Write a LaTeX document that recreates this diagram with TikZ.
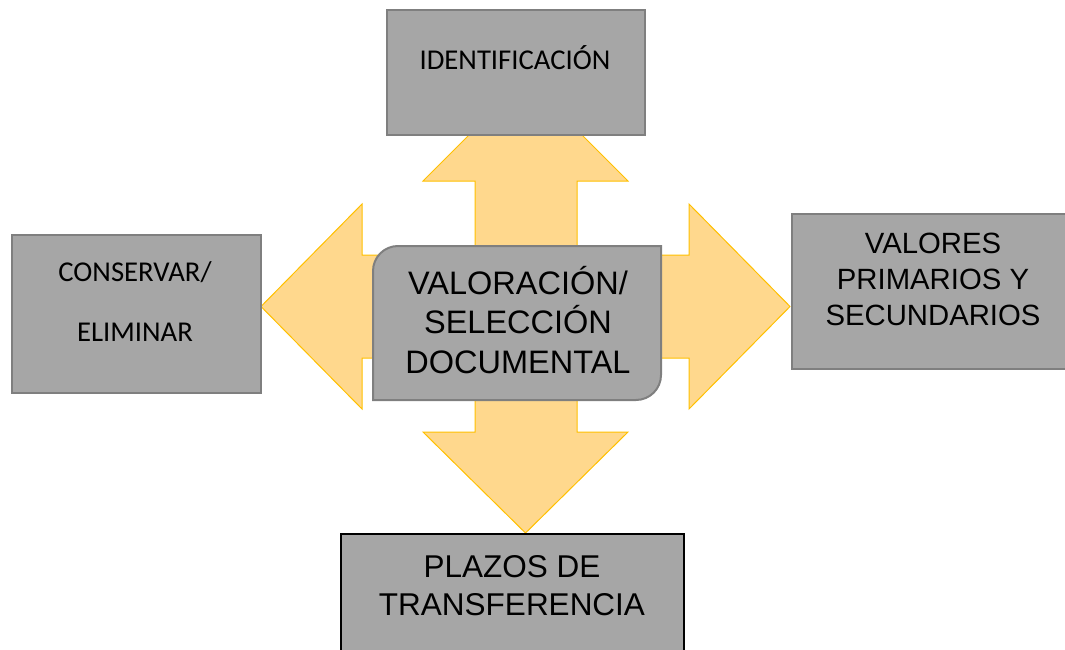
\documentclass[tikz,border=0pt]{standalone}
\usepackage{fontspec}
\setmainfont{Liberation Sans}
\newfontfamily\calfont{Carlito}
\definecolor{arrfill}{RGB}{255,216,141}
\definecolor{arrline}{RGB}{255,192,0}
\definecolor{boxfill}{RGB}{166,166,166}
\definecolor{boxline}{RGB}{127,127,127}
\tikzset{
  blockarrow/.style={fill=arrfill, draw=arrline, line width=1pt, line join=miter},
  graybox/.style={rectangle, fill=boxfill, draw=boxline, line width=2pt, inner sep=0pt, anchor=north west},
  blackbox/.style={rectangle, fill=boxfill, draw=black, line width=2pt, inner sep=0pt, anchor=north west},
  caltext/.style={anchor=base, align=center, inner sep=0pt, font=\calfont\fontsize{28.7}{60}\selectfont},
  bigtext/.style={anchor=base, align=center, inner sep=0pt, font=\fontsize{32.5}{39.5}\selectfont},
  midtext/.style={anchor=base, align=center, inner sep=0pt, font=\fontsize{29.3}{36}\selectfont},
  lowtext/.style={anchor=base, align=center, inner sep=0pt, font=\fontsize{31.5}{38}\selectfont},
}
\begin{document}
\begin{tikzpicture}[x=1pt, y=-1pt]
\useasboundingbox (0,0) rectangle (1065,650);
\clip (0,0) rectangle (1065,650);
% block arrows from the centre
\draw[blockarrow] (475,307) -- (475,181) -- (423,181) -- (525.5,78.5) -- (628,181) -- (577,181) -- (577,307) -- cycle;
\draw[blockarrow] (526,255) -- (362,255) -- (362,204) -- (261,306.5) -- (362,409) -- (362,358) -- (526,358) -- cycle;
\draw[blockarrow] (526,255) -- (689,255) -- (689,204) -- (790,306.5) -- (689,409) -- (689,358) -- (526,358) -- cycle;
\draw[blockarrow] (475,307) -- (475,432) -- (423,432) -- (525.5,533) -- (628,432) -- (577,432) -- (577,307) -- cycle;
% centre shape (round diagonal corners)
\draw[fill=boxfill, draw=boxline, line width=2pt]
  (373,400) -- (373,271) .. controls (373,257.2) and (384.2,246) .. (398,246)
  -- (661,246) -- (661,375) .. controls (661,388.8) and (649.8,400) .. (636,400) -- cycle;
\node[bigtext] (centre) at (518,373) {VALORACIÓN/\\SELECCIÓN\\DOCUMENTAL};
% outer boxes
\node[graybox, minimum width=258pt, minimum height=125pt] (ident) at (386,9) {};
\node[caltext] (identt) at (515,70) {IDENTIFICACIÓN};
\node[graybox, minimum width=249pt, minimum height=158pt] (conserv) at (11,234) {};
\node[caltext] (conservt) at (135,341) {CONSERVAR/\\ELIMINAR};
\node[graybox, minimum width=284pt, minimum height=155pt] (valores) at (791,213) {};
\node[midtext] (valorest) at (933,325) {VALORES\\PRIMARIOS Y\\SECUNDARIOS};
\node[blackbox, minimum width=343pt, minimum height=140pt] (plazos) at (340,533) {};
\node[lowtext] (plazost) at (512,615) {PLAZOS DE\\TRANSFERENCIA};
\end{tikzpicture}
\end{document}
